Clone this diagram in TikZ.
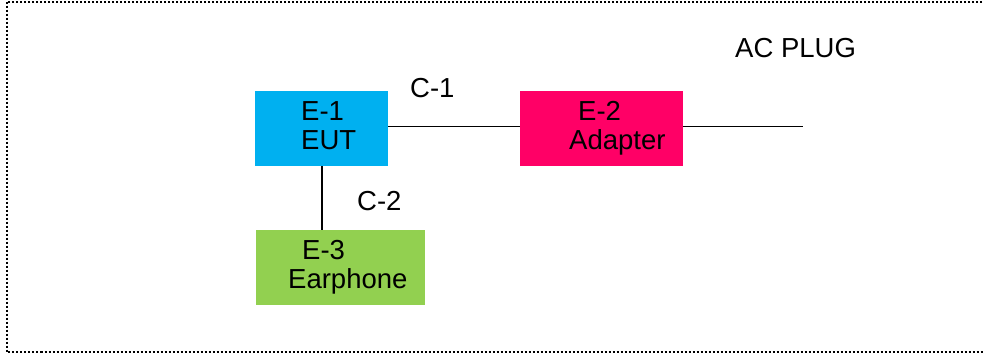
\documentclass[tikz,border=0pt]{standalone}
\usepackage{fontspec}
\setmainfont{Liberation Sans}
\usetikzlibrary{positioning}
\definecolor{eutblue}{HTML}{00B0F0}
\definecolor{adapterpink}{HTML}{FF0066}
\definecolor{phonegreen}{HTML}{92D050}
\tikzset{
  eqbox/.style={rectangle, inner sep=0pt, outer sep=0pt},
  txt/.style={inner sep=0pt, font=\fontsize{27.5}{29}\selectfont, anchor=base west},
  cable/.style={line width=1.9pt, black}
}

\begin{document}
\begin{tikzpicture}[x=1pt,y=-1pt]
    \useasboundingbox (0,0) rectangle (984,354);
    \begin{scope}
    \clip (0,0) rectangle (984,354);
    \draw[line width=2pt, dash pattern=on 2pt off 2pt] (7,1.5) rectangle (1020,352);
    \end{scope}
    % equipment boxes
    \node[eqbox, fill=eutblue, minimum width=133pt, minimum height=75pt] (eut) at (321.5,128.5) {};
    \node[eqbox, fill=adapterpink, minimum width=163pt, minimum height=75pt] (adapter) at (601.5,128.5) {};
    \node[eqbox, fill=phonegreen, minimum width=169pt, minimum height=75pt] (phone) at (340.5,267.5) {};
    % texts in the boxes
    \node[txt] (eutA) at (301,120) {E-1};
    \node[txt] (eutB) at (301,149) {EUT};
    \node[txt] (adapterA) at (578,120) {E-2};
    \node[txt] (adapterB) at (569,149) {Adapter};
    \node[txt] (phoneA) at (302,259) {E-3};
    \node[txt] (phoneB) at (288,288) {Earphone};
    % cables
    \coordinate (plug) at (803,126.5);
    \draw[cable] (eut.east |- 0,126.5) -- (adapter.west |- 0,126.5);
    \draw[cable] (adapter.east |- plug) -- (plug);
    \draw[cable] (eut.south -| 322,0) -- (phone.north -| 322,0);
    % cable labels
    \node[txt] (cone) at (410,97) {C-1};
    \node[txt] (ctwo) at (357,210) {C-2};
    \node[txt] (acplug) at (735,57) {AC PLUG};
\end{tikzpicture}
\end{document}
